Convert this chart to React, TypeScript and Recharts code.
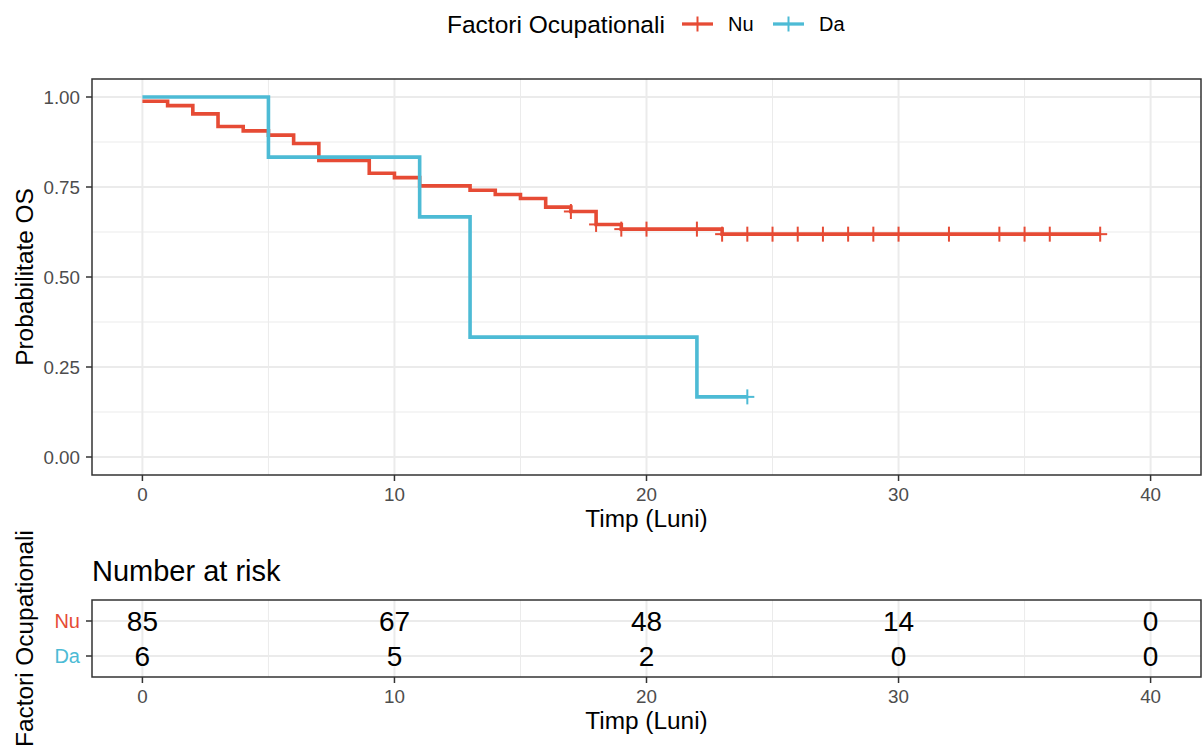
import React from 'react';
import {
  ComposedChart,
  Line,
  Scatter,
  XAxis,
  YAxis,
  CartesianGrid,
  ReferenceArea,
} from 'recharts';

// ---- data -------------------------------------------------------------
const GROUPS = ['Nu', 'Da'];
const COLORS = ['#E64B35', '#4DBBD5'];

const timeTicks = [0, 10, 20, 30, 40];
const timeMinor = [5, 15, 25, 35];
const survTicks = [0, 0.25, 0.5, 0.75, 1];
const survMinor = [0.125, 0.375, 0.625, 0.875];

// Kaplan-Meier steps: time (months) and survival from that time on
const nuTimes = [0, 1, 2, 3, 4, 5, 6, 7, 9, 10, 11, 13, 14, 15, 16, 17, 18, 19, 23, 38];
const nuSurv = [0.988, 0.976, 0.953, 0.918, 0.906, 0.894, 0.871, 0.824, 0.788, 0.776, 0.753, 0.741, 0.729, 0.718, 0.694, 0.682, 0.646, 0.633, 0.619, 0.619];
const nuCensorTimes = [17, 18, 19, 20, 22, 23, 24, 25, 26, 27, 28, 29, 30, 32, 34, 35, 36, 38];

const daTimes = [0, 5, 11, 13, 22, 24];
const daSurv = [1, 0.833, 0.667, 0.333, 0.167, 0.167];
const daCensorTimes = [24];

const riskTimes = [0, 10, 20, 30, 40];
const nuAtRisk = [85, 67, 48, 14, 0];
const daAtRisk = [6, 5, 2, 0, 0];

// ---- derived tables ----------------------------------------------------
const toSteps = (times: number[], surv: number[]) =>
  times.map((t, i) => ({ t, s: surv[i] }));

const survAt = (times: number[], surv: number[], t: number) => {
  let s = 1;
  times.forEach((tt, i) => {
    if (tt <= t) s = surv[i];
  });
  return s;
};

const nuLine = toSteps(nuTimes, nuSurv);
const daLine = toSteps(daTimes, daSurv);
const nuCensor = nuCensorTimes.map((t) => ({ t, s: survAt(nuTimes, nuSurv, t) }));
const daCensor = daCensorTimes.map((t) => ({ t, s: survAt(daTimes, daSurv, t) }));

// risk table rows: Nu on top (row 2), Da below (row 1)
const rowOf = (g: number) => GROUPS.length - g;
const riskRows = [nuAtRisk, daAtRisk].flatMap((counts, g) =>
  counts.map((n, i) => ({ t: riskTimes[i], row: rowOf(g), n }))
);

// ---- styling helpers ---------------------------------------------------
const FONT = '"Liberation Sans", Arial, Helvetica, sans-serif';
const TICK_COLOR = '#4D4D4D';
const BORDER = '#333333';
const GRID = '#EBEBEB';

const makePlus = (color: string) => (props: any) => {
  const { cx, cy } = props;
  if (cx == null || cy == null) return <g />;
  return (
    <g>
      <line x1={cx - 7} x2={cx + 7} y1={cy} y2={cy} stroke={color} strokeWidth={2} />
      <line x1={cx} x2={cx} y1={cy - 7.5} y2={cy + 7.5} stroke={color} strokeWidth={2} />
    </g>
  );
};

const RiskNumber = (props: any) => {
  const { cx, cy, payload } = props;
  if (cx == null || cy == null) return <g />;
  return (
    <text
      x={cx}
      y={cy}
      dy={10}
      textAnchor="middle"
      fontSize={28}
      fontFamily={FONT}
      fill="#000000"
    >
      {payload.n}
    </text>
  );
};

const RiskTick = (props: any) => {
  const { x, y, payload } = props;
  const g = GROUPS.length - payload.value;
  return (
    <text
      x={x}
      y={y}
      dy="0.355em"
      textAnchor="end"
      fontSize={20}
      fontFamily={FONT}
      fill={COLORS[g]}
    >
      {GROUPS[g]}
    </text>
  );
};

const tickStyle = { fontSize: 18.8, fill: TICK_COLOR, fontFamily: FONT };

export default function App() {
  return (
    <div
      style={{
        position: 'absolute',
        left: 0,
        top: 0,
        width: 1203,
        height: 747,
        background: '#ffffff',
        fontFamily: FONT,
      }}
    >
      {/* survival curves */}
      <div style={{ position: 'absolute', left: 0, top: 0 }}>
        <ComposedChart width={1203} height={545} margin={{ top: 79, right: 2, left: 0, bottom: 0 }}>
          <CartesianGrid
            verticalValues={timeMinor}
            horizontalValues={survMinor}
            syncWithTicks
            stroke={GRID}
            strokeWidth={1}
          />
          <CartesianGrid
            verticalValues={timeTicks}
            horizontalValues={survTicks}
            syncWithTicks
            stroke={GRID}
            strokeWidth={2}
          />
          <XAxis
            type="number"
            dataKey="t"
            domain={[-2, 42]}
            ticks={timeTicks}
            allowDataOverflow
            height={70}
            axisLine={false}
            tickSize={6}
            tickMargin={7}
            tickLine={{ stroke: BORDER, strokeWidth: 1.5 }}
            tick={tickStyle}
          />
          <YAxis
            type="number"
            dataKey="s"
            domain={[-0.05, 1.05]}
            ticks={survTicks}
            allowDataOverflow
            width={92}
            axisLine={false}
            tickSize={6}
            tickMargin={6}
            tickLine={{ stroke: BORDER, strokeWidth: 1.5 }}
            tick={tickStyle}
            tickFormatter={(v: number) => v.toFixed(2)}
          />
          <ReferenceArea
            x1={-2}
            x2={42}
            y1={-0.05}
            y2={1.05}
            fill="none"
            fillOpacity={0}
            stroke={BORDER}
            strokeWidth={1.5}
            ifOverflow="visible"
          />
          <Line
            data={nuLine}
            dataKey="s"
            type="stepAfter"
            stroke={COLORS[0]}
            strokeWidth={3.6}
            dot={false}
            activeDot={false}
            isAnimationActive={false}
          />
          <Scatter data={nuCensor} dataKey="s" shape={makePlus(COLORS[0])} isAnimationActive={false} />
          <Line
            data={daLine}
            dataKey="s"
            type="stepAfter"
            stroke={COLORS[1]}
            strokeWidth={3.6}
            dot={false}
            activeDot={false}
            isAnimationActive={false}
          />
          <Scatter data={daCensor} dataKey="s" shape={makePlus(COLORS[1])} isAnimationActive={false} />
        </ComposedChart>
      </div>

      {/* number at risk table */}
      <div style={{ position: 'absolute', left: 0, top: 540 }}>
        <ComposedChart width={1203} height={207} margin={{ top: 60, right: 2, left: 0, bottom: 0 }}>
          <CartesianGrid
            verticalValues={timeMinor}
            horizontal={false}
            syncWithTicks
            stroke={GRID}
            strokeWidth={1}
          />
          <CartesianGrid
            verticalValues={timeTicks}
            horizontalValues={[1, 2]}
            syncWithTicks
            stroke={GRID}
            strokeWidth={2}
          />
          <XAxis
            type="number"
            dataKey="t"
            domain={[-2, 42]}
            ticks={timeTicks}
            allowDataOverflow
            height={70}
            axisLine={false}
            tickSize={6}
            tickMargin={7}
            tickLine={{ stroke: BORDER, strokeWidth: 1.5 }}
            tick={tickStyle}
          />
          <YAxis
            type="number"
            dataKey="row"
            domain={[0.4, 2.6]}
            ticks={[1, 2]}
            allowDataOverflow
            width={92}
            axisLine={false}
            tickSize={6}
            tickMargin={6}
            tickLine={{ stroke: BORDER, strokeWidth: 1.5 }}
            tick={<RiskTick />}
          />
          <ReferenceArea
            x1={-2}
            x2={42}
            y1={0.4}
            y2={2.6}
            fill="none"
            fillOpacity={0}
            stroke={BORDER}
            strokeWidth={1.5}
            ifOverflow="visible"
          />
          <Scatter data={riskRows} dataKey="row" shape={RiskNumber} isAnimationActive={false} />
        </ComposedChart>
      </div>

      {/* titles and legend */}
      <svg
        width={1203}
        height={747}
        style={{ position: 'absolute', left: 0, top: 0, pointerEvents: 'none' }}
        fontFamily={FONT}
      >
        <text x={447} y={33} fontSize={24.5} fill="#000">Factori Ocupationali</text>
        {GROUPS.map((g, i) => {
          const kx = 682 + i * 91;
          return (
            <g key={g}>
              <line x1={kx} x2={kx + 31} y1={24} y2={24} stroke={COLORS[i]} strokeWidth={3.3} />
              <line x1={kx + 15.5} x2={kx + 15.5} y1={16.5} y2={31.5} stroke={COLORS[i]} strokeWidth={2} />
              <text x={kx + 46} y={31} fontSize={20} fill="#000">{g}</text>
            </g>
          );
        })}

        <text
          x={33}
          y={277}
          transform="rotate(-90, 33, 277)"
          textAnchor="middle"
          fontSize={24.4}
          fill="#000"
        >
          Probabilitate OS
        </text>
        <text x={646.5} y={527} textAnchor="middle" fontSize={24.4} fill="#000">Timp (Luni)</text>

        <text x={92} y={581} fontSize={29} fill="#000">Number at risk</text>
        <text
          x={33}
          y={638.5}
          transform="rotate(-90, 33, 638.5)"
          textAnchor="middle"
          fontSize={24.4}
          fill="#000"
        >
          Factori Ocupationali
        </text>
        <text x={646.5} y={729} textAnchor="middle" fontSize={24.4} fill="#000">Timp (Luni)</text>
      </svg>
    </div>
  );
}
